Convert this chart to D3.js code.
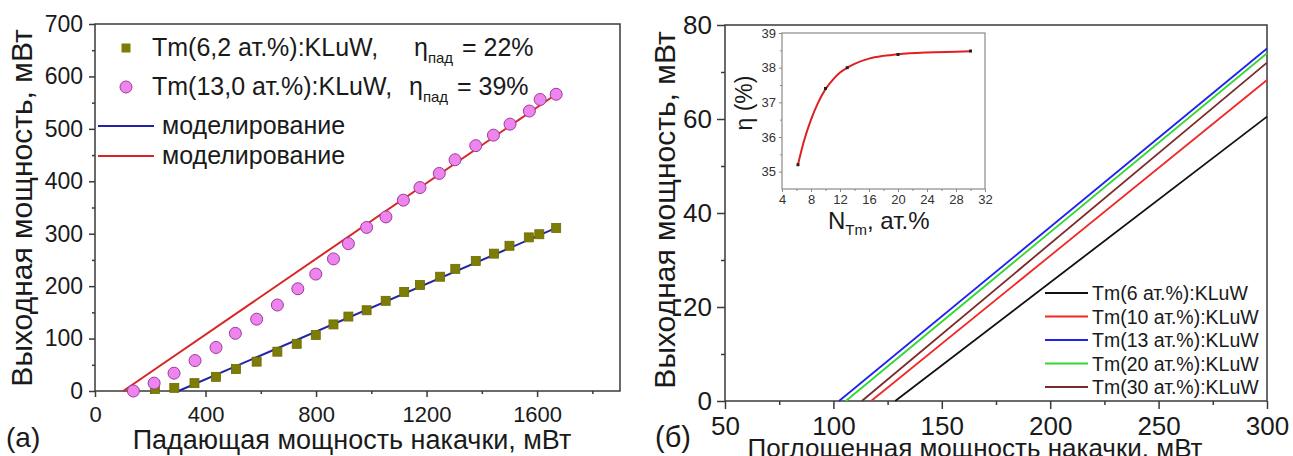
<!DOCTYPE html>
<html><head><meta charset="utf-8">
<script src="https://cdn.jsdelivr.net/npm/d3@7"></script>
<style>
html,body{margin:0;padding:0;background:#fff;}
svg{display:block;font-family:"Liberation Sans",Arial,sans-serif;}
</style></head>
<body>
<svg id="chart" width="1293" height="456"></svg>
<script>
// ---------- data: panel (a) ----------
const sqX = [217,287,360,438,510,585,660,730,799,863,917,983,1052,1119,1176,1249,1304,1378,1444,1500,1570,1608,1669];
const sqY = [4,6,15,27,42,56,75,90,107,127,142,154,172,189,202,218,233,248,262,277,293,299,311];
const circX = [139,214,286,362,438,508,585,660,734,799,863,917,983,1053,1116,1176,1246,1303,1378,1442,1502,1572,1611,1669];
const circY = [0,15,34,58,83,110,137,164,195,223,252,281,312,332,364,388,415,441,468,488,509,534,556,566];
const modelBlueX = [302,1669];
const modelBlueY = [0,311];
const modelRedX = [102,1669];
const modelRedY = [0,566];
const aXTicks = [0,400,800,1200,1600];
const aXMinor = [200,600,1000,1400,1800];
const aYTicks = [0,100,200,300,400,500,600,700];
const aYMinor = [50,150,250,350,450,550,650];
const legendA = ["Tm(6,2 ат.%):KLuW,","Tm(13,0 ат.%):KLuW,","моделирование","моделирование"];
const etaA = ["= 22%","= 39%"];

// ---------- data: panel (б) ----------
const bNames = ["Tm(6 ат.%):KLuW","Tm(10 ат.%):KLuW","Tm(13 ат.%):KLuW","Tm(20 ат.%):KLuW","Tm(30 ат.%):KLuW"];
const bThreshold = [128.5,117.4,102.6,105.7,113.1];
const bAt300 = [60.5,68.3,75.0,74.0,72.0];
const bColors = ["#111111","#f02828","#2020f0","#30d830","#7a2a2a"];
const bXTicks = [50,100,150,200,250,300];
const bXMinor = [75,125,175,225,275];
const bYTicks = [0,20,40,60,80];
const bYMinor = [10,30,50,70];

// ---------- data: inset ----------
const nTm = [6.2,10,13,20,30];
const etaIn = [35.2,37.4,38.0,38.38,38.48];
// fitted curve
const fitN =   [6.2,7,8,9,10,11,12,13,14,16,18,20,24,28,30];
const fitEta = [35.2,35.86,36.5,37.0,37.38,37.65,37.86,38.0,38.11,38.26,38.34,38.39,38.44,38.46,38.47];
const inXTicks = [4,8,12,16,20,24,28,32];
const inXMinor = [6,10,14,18,22,26,30];
const inYTicks = [35,36,37,38,39];
const inYMinor = [35.5,36.5,37.5,38.5];

const svg = d3.select("#chart");
const FRAME = "#3a3a3a";
const TXT = "#1a1a1a";

function styleAxis(g, fs){
  g.select(".domain").remove();
  g.selectAll(".tick line").attr("stroke", FRAME).attr("stroke-width", 1.5);
  g.selectAll(".tick text").attr("fill", TXT).attr("font-size", fs);
}

// ================= PANEL (a) =================
const ax = d3.scaleLinear().domain([0,1900]).range([95,620]);
const ay = d3.scaleLinear().domain([0,700]).range([391,24]);

const gaxb = svg.append("g").attr("transform","translate(0,391)")
  .call(d3.axisBottom(ax).tickValues(aXTicks).tickSize(6).tickFormat(d3.format("d")));
styleAxis(gaxb, 22);
gaxb.selectAll(".tick text").attr("dy", null).attr("y", 31);
const gaxbm = svg.append("g").attr("transform","translate(0,391)")
  .call(d3.axisBottom(ax).tickValues(aXMinor).tickSize(3).tickFormat(""));
styleAxis(gaxbm, 22);

const gayl = svg.append("g").attr("transform","translate(95,0)")
  .call(d3.axisLeft(ay).tickValues(aYTicks).tickSize(6).tickPadding(6).tickFormat(d3.format("d")));
styleAxis(gayl, 23);
const gaylm = svg.append("g").attr("transform","translate(95,0)")
  .call(d3.axisLeft(ay).tickValues(aYMinor).tickSize(3).tickFormat(""));
styleAxis(gaylm, 23);

svg.append("rect").attr("x",ax(0)).attr("y",ay(700))
  .attr("width",ax(1900)-ax(0)).attr("height",ay(0)-ay(700))
  .attr("fill","none").attr("stroke",FRAME).attr("stroke-width",1.5);

const lineA = d3.line().x(d=>ax(d[0])).y(d=>ay(d[1]));
svg.append("path").datum(d3.zip(modelRedX, modelRedY)).attr("d", lineA)
  .attr("fill","none").attr("stroke","#d82626").attr("stroke-width",2);
svg.append("path").datum(d3.zip(modelBlueX, modelBlueY)).attr("d", lineA)
  .attr("fill","none").attr("stroke","#2222aa").attr("stroke-width",2);

svg.append("g").selectAll("rect").data(d3.zip(sqX, sqY)).join("rect")
  .attr("x", d=>ax(d[0])-4.5).attr("y", d=>ay(d[1])-4.5).attr("width",9).attr("height",9)
  .attr("fill","#7d7d05").attr("stroke","#6a6a00").attr("stroke-width",0.8);
svg.append("g").selectAll("circle").data(d3.zip(circX, circY)).join("circle")
  .attr("cx", d=>ax(d[0])).attr("cy", d=>ay(d[1])).attr("r",6)
  .attr("fill","#ee84ee").attr("stroke","#9a3c9a").attr("stroke-width",1);

// legend (a)
const lgA = svg.append("g").attr("font-size",25).attr("fill",TXT);
lgA.append("rect").attr("x",121.5).attr("y",43.5).attr("width",9).attr("height",9).attr("fill","#7d7d05");
lgA.append("circle").attr("cx",126).attr("cy",87).attr("r",6).attr("fill","#ee84ee").attr("stroke","#9a3c9a");
lgA.append("line").attr("x1",98).attr("x2",154).attr("y1",126).attr("y2",126).attr("stroke","#2222aa").attr("stroke-width",2);
lgA.append("line").attr("x1",98).attr("x2",154).attr("y1",156).attr("y2",156).attr("stroke","#d82626").attr("stroke-width",2);
lgA.append("text").attr("x",152).attr("y",56).text(legendA[0]);
lgA.append("text").attr("x",152).attr("y",95).text(legendA[1]);
lgA.append("text").attr("x",162).attr("y",134).text(legendA[2]);
lgA.append("text").attr("x",162).attr("y",164).text(legendA[3]);
[[414,56,etaA[0],462],[409,95,etaA[1],457]].forEach(([x,y,t,x2])=>{
  const tx = lgA.append("text").attr("x",x).attr("y",y);
  tx.append("tspan").text("η");
  tx.append("tspan").attr("font-size",15).attr("dy",7).text("пад");
  lgA.append("text").attr("x",x2).attr("y",y).text(t);
});

svg.append("text").attr("transform","translate(32,208) rotate(-90)")
  .attr("text-anchor","middle").attr("font-size",30).attr("fill",TXT)
  .text("Выходная мощность, мВт");
svg.append("text").attr("x",352).attr("y",449).attr("text-anchor","middle")
  .attr("font-size",27).attr("fill",TXT).text("Падающая мощность накачки, мВт");
svg.append("text").attr("x",6).attr("y",447).attr("font-size",28).attr("fill",TXT).text("(a)");

// ================= PANEL (б) =================
const bx = d3.scaleLinear().domain([50,300]).range([725,1267]);
const by = d3.scaleLinear().domain([0,80]).range([401,25]);

const gbxb = svg.append("g").attr("transform","translate(0,401)")
  .call(d3.axisBottom(bx).tickValues(bXTicks).tickSize(8).tickFormat(d3.format("d")));
styleAxis(gbxb, 26);
gbxb.selectAll(".tick text").attr("dy", null).attr("y", 34);
const gbxbm = svg.append("g").attr("transform","translate(0,401)")
  .call(d3.axisBottom(bx).tickValues(bXMinor).tickSize(4).tickFormat(""));
styleAxis(gbxbm, 26);

const gbyl = svg.append("g").attr("transform","translate(725,0)")
  .call(d3.axisLeft(by).tickValues(bYTicks).tickSize(8).tickPadding(5).tickFormat(d3.format("d")));
styleAxis(gbyl, 26);
const gbylm = svg.append("g").attr("transform","translate(725,0)")
  .call(d3.axisLeft(by).tickValues(bYMinor).tickSize(4).tickFormat(""));
styleAxis(gbylm, 26);

svg.append("rect").attr("x",bx(50)).attr("y",by(80))
  .attr("width",bx(300)-bx(50)).attr("height",by(0)-by(80))
  .attr("fill","none").attr("stroke",FRAME).attr("stroke-width",1.5);

const lineB = d3.line().x(d=>bx(d[0])).y(d=>by(d[1]));
const order = [0,1,4,3,2];
order.forEach(i=>{
  svg.append("path").datum([[bThreshold[i],0],[300,bAt300[i]]]).attr("d", lineB)
    .attr("fill","none").attr("stroke",bColors[i]).attr("stroke-width",1.8);
});

const lgB = svg.append("g").attr("font-size",19.5).attr("fill",TXT);
bNames.forEach((n,i)=>{
  const y = 293 + i*23.5;
  lgB.append("line").attr("x1",1045).attr("x2",1088).attr("y1",y).attr("y2",y)
    .attr("stroke",bColors[i]).attr("stroke-width",2);
  lgB.append("text").attr("x",1092).attr("y",y+7).text(n);
});

svg.append("text").attr("transform","translate(675,210) rotate(-90)")
  .attr("text-anchor","middle").attr("font-size",30).attr("fill",TXT)
  .text("Выходная мощность, мВт");
svg.append("text").attr("x",975).attr("y",457).attr("text-anchor","middle")
  .attr("font-size",26).attr("fill",TXT).text("Поглощенная мощность накачки, мВт");
svg.append("text").attr("x",655).attr("y",447).attr("font-size",29).attr("fill",TXT).text("(б)");

// ================= INSET =================
const ix = d3.scaleLinear().domain([4,32]).range([782,985]);
const iy = d3.scaleLinear().domain([34.5,39]).range([189,33]);
const INF = "#8a8a8a";
function styleInset(g){
  g.select(".domain").remove();
  g.selectAll(".tick line").attr("stroke", INF).attr("stroke-width", 1);
  g.selectAll(".tick text").attr("fill", "#333").attr("font-size", 13);
}
const gixb = svg.append("g").attr("transform","translate(0,189)")
  .call(d3.axisBottom(ix).tickValues(inXTicks).tickSize(3).tickPadding(3).tickFormat(d3.format("d")));
styleInset(gixb);
const gixbm = svg.append("g").attr("transform","translate(0,189)")
  .call(d3.axisBottom(ix).tickValues(inXMinor).tickSize(2).tickFormat(""));
styleInset(gixbm);
const giyl = svg.append("g").attr("transform","translate(782,0)")
  .call(d3.axisLeft(iy).tickValues(inYTicks).tickSize(3).tickPadding(3).tickFormat(d3.format("d")));
styleInset(giyl);
const giylm = svg.append("g").attr("transform","translate(782,0)")
  .call(d3.axisLeft(iy).tickValues(inYMinor).tickSize(2).tickFormat(""));
styleInset(giylm);
svg.append("rect").attr("x",ix(4)).attr("y",iy(39))
  .attr("width",ix(32)-ix(4)).attr("height",iy(34.5)-iy(39))
  .attr("fill","none").attr("stroke",INF).attr("stroke-width",1.2);

const lineIn = d3.line().x(d=>ix(d[0])).y(d=>iy(d[1])).curve(d3.curveMonotoneX);
svg.append("path").datum(d3.zip(fitN, fitEta)).attr("d", lineIn)
  .attr("fill","none").attr("stroke","#e02020").attr("stroke-width",2);
svg.append("g").selectAll("rect").data(d3.zip(nTm, etaIn)).join("rect")
  .attr("x", d=>ix(d[0])-1.5).attr("y", d=>iy(d[1])-1.5).attr("width",3).attr("height",3)
  .attr("fill","#222");

svg.append("text").attr("transform","translate(752,103) rotate(-90)")
  .attr("text-anchor","middle").attr("font-size",23).attr("fill",TXT).text("η (%)");
const nt = svg.append("text").attr("x",828).attr("y",229).attr("font-size",24).attr("fill",TXT);
nt.append("tspan").text("N");
nt.append("tspan").attr("font-size",15).attr("dy",6).text("Tm");
nt.append("tspan").attr("dy",-6).text(", ат.%");
</script>
</body></html>
